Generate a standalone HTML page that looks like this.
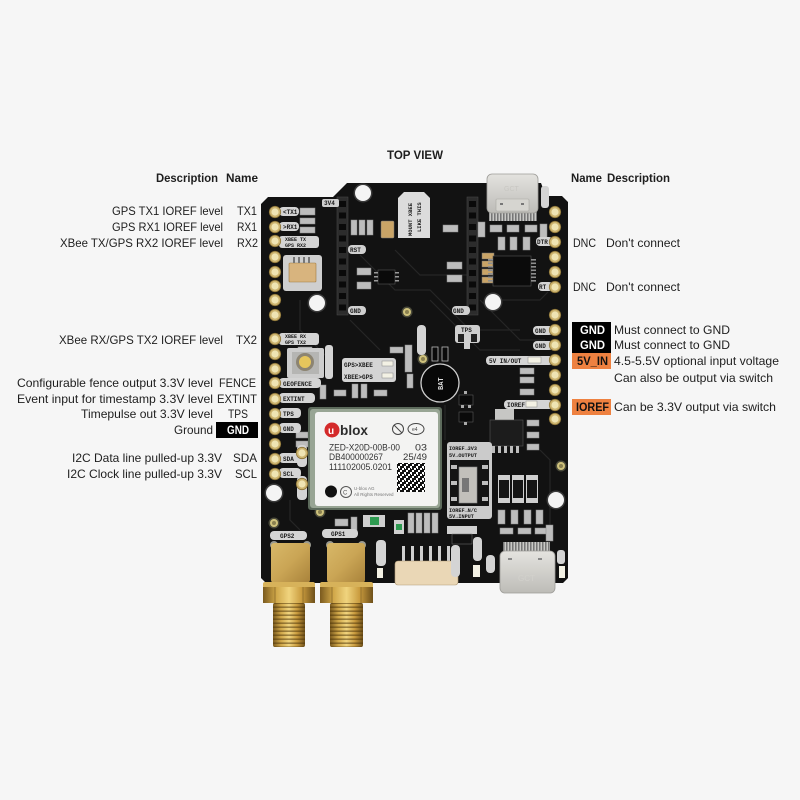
<!DOCTYPE html>
<html><head><meta charset="utf-8">
<style>
html,body{margin:0;padding:0;background:#f6f6f6;}
svg{display:block;}
.t{font-family:"Liberation Sans",Arial,sans-serif;font-size:12px;fill:#1e1e1e;}
.b{font-weight:bold;}
.s{font-family:"Liberation Mono",monospace;font-size:6px;font-weight:bold;fill:#1a1a1a;}
.m{font-family:"Liberation Sans",Arial,sans-serif;font-size:9.5px;fill:#333;}
</style></head><body>
<svg width="800" height="800" viewBox="0 0 800 800" xmlns="http://www.w3.org/2000/svg">
<defs>
 <linearGradient id="gold" x1="0" x2="1" y1="0" y2="0">
  <stop offset="0" stop-color="#7a5a1e"/>
  <stop offset="0.25" stop-color="#cfa648"/>
  <stop offset="0.5" stop-color="#f0d47e"/>
  <stop offset="0.75" stop-color="#c99b3e"/>
  <stop offset="1" stop-color="#6e501a"/>
 </linearGradient>
 <linearGradient id="goldb" x1="0" x2="1" y1="0" y2="1">
  <stop offset="0" stop-color="#d8b868"/>
  <stop offset="0.5" stop-color="#caa555"/>
  <stop offset="1" stop-color="#a8823a"/>
 </linearGradient>
 <pattern id="thr" width="4" height="4" patternUnits="userSpaceOnUse">
  <rect y="2.4" width="4" height="1.6" fill="#4a3108" fill-opacity="0.5"/>
 </pattern>
 <linearGradient id="silver" x1="0" x2="0" y1="0" y2="1">
  <stop offset="0" stop-color="#e4e3df"/>
  <stop offset="1" stop-color="#bdbcb7"/>
 </linearGradient>
 <pattern id="usbpins" width="3" height="9" patternUnits="userSpaceOnUse">
  <rect width="3" height="9" fill="#6d6d6d"/>
  <rect x="0.5" width="1.6" height="9" fill="#c9c9c6"/>
 </pattern>
 <pattern id="qr" width="6" height="6" patternUnits="userSpaceOnUse">
  <rect width="6" height="6" fill="#111"/>
  <rect x="0" y="0" width="2" height="2" fill="#fff"/>
  <rect x="4" y="2" width="2" height="2" fill="#fff"/>
  <rect x="2" y="4" width="2" height="2" fill="#fff"/>
  <rect x="3" y="0" width="1" height="1" fill="#fff"/>
 </pattern>
 <g id="pin"><circle r="5.7" fill="#cdb46f" stroke="#8c7438" stroke-width="0.8"/><circle r="3.6" fill="#efe4b3"/></g>
 <g id="ring"><circle r="5.5" fill="#4a4a3a"/><circle r="4" fill="#cfc27c"/><circle r="2" fill="#8a8050"/></g>
 <g id="hole"><circle r="9.5" fill="#3a3a3a"/><circle r="8" fill="#f4f4f4"/></g>
</defs>

<rect width="800" height="800" fill="#f6f6f6"/>

<!-- Titles -->
<text class="t b" x="387" y="159" textLength="56" lengthAdjust="spacingAndGlyphs">TOP VIEW</text>
<text class="t b" x="156" y="182" textLength="62" lengthAdjust="spacingAndGlyphs">Description</text>
<text class="t b" x="226" y="182" textLength="32" lengthAdjust="spacingAndGlyphs">Name</text>
<text class="t b" x="571" y="182" textLength="31" lengthAdjust="spacingAndGlyphs">Name</text>
<text class="t b" x="607" y="182" textLength="63" lengthAdjust="spacingAndGlyphs">Description</text>

<!-- Left labels -->
<text class="t" x="112" y="215" textLength="111" lengthAdjust="spacingAndGlyphs">GPS TX1 IOREF level</text>
<text class="t" x="237" y="215" textLength="20" lengthAdjust="spacingAndGlyphs">TX1</text>
<text class="t" x="112" y="231" textLength="111" lengthAdjust="spacingAndGlyphs">GPS RX1 IOREF level</text>
<text class="t" x="237" y="231" textLength="20" lengthAdjust="spacingAndGlyphs">RX1</text>
<text class="t" x="60" y="247" textLength="163" lengthAdjust="spacingAndGlyphs">XBee TX/GPS RX2 IOREF level</text>
<text class="t" x="237" y="247" textLength="21" lengthAdjust="spacingAndGlyphs">RX2</text>
<text class="t" x="59" y="344" textLength="164" lengthAdjust="spacingAndGlyphs">XBee RX/GPS TX2 IOREF level</text>
<text class="t" x="236" y="344" textLength="21" lengthAdjust="spacingAndGlyphs">TX2</text>
<text class="t" x="17" y="387" textLength="196" lengthAdjust="spacingAndGlyphs">Configurable fence output 3.3V level</text>
<text class="t" x="219" y="387" textLength="37" lengthAdjust="spacingAndGlyphs">FENCE</text>
<text class="t" x="17" y="403" textLength="196" lengthAdjust="spacingAndGlyphs">Event input for timestamp 3.3V level</text>
<text class="t" x="217" y="403" textLength="40" lengthAdjust="spacingAndGlyphs">EXTINT</text>
<text class="t" x="81" y="418" textLength="132" lengthAdjust="spacingAndGlyphs">Timepulse out 3.3V level</text>
<text class="t" x="228" y="418" textLength="20" lengthAdjust="spacingAndGlyphs">TPS</text>
<text class="t" x="174" y="434" textLength="39" lengthAdjust="spacingAndGlyphs">Ground</text>
<rect x="216" y="422" width="42" height="16" fill="#000"/>
<text class="t b" x="227" y="434" textLength="22" lengthAdjust="spacingAndGlyphs" style="fill:#fff">GND</text>
<text class="t" x="72" y="462" textLength="150" lengthAdjust="spacingAndGlyphs">I2C Data line pulled-up 3.3V</text>
<text class="t" x="233" y="462" textLength="24" lengthAdjust="spacingAndGlyphs">SDA</text>
<text class="t" x="67" y="478" textLength="155" lengthAdjust="spacingAndGlyphs">I2C Clock line pulled-up 3.3V</text>
<text class="t" x="235" y="478" textLength="22" lengthAdjust="spacingAndGlyphs">SCL</text>

<!-- Right labels -->
<text class="t" x="573" y="247" textLength="23" lengthAdjust="spacingAndGlyphs">DNC</text>
<text class="t" x="606" y="247" textLength="74" lengthAdjust="spacingAndGlyphs">Don't connect</text>
<text class="t" x="573" y="291" textLength="23" lengthAdjust="spacingAndGlyphs">DNC</text>
<text class="t" x="606" y="291" textLength="74" lengthAdjust="spacingAndGlyphs">Don't connect</text>
<rect x="572" y="322" width="39" height="16" fill="#000"/>
<text class="t b" x="580" y="334" textLength="25" lengthAdjust="spacingAndGlyphs" style="fill:#fff">GND</text>
<text class="t" x="614" y="334" textLength="116" lengthAdjust="spacingAndGlyphs">Must connect to GND</text>
<rect x="572" y="338" width="39" height="15" fill="#000"/>
<text class="t b" x="580" y="349" textLength="25" lengthAdjust="spacingAndGlyphs" style="fill:#fff">GND</text>
<text class="t" x="614" y="349" textLength="116" lengthAdjust="spacingAndGlyphs">Must connect to GND</text>
<rect x="572" y="353" width="39" height="16" fill="#ee8140"/>
<text class="t b" x="577" y="365" textLength="31" lengthAdjust="spacingAndGlyphs" style="fill:#111">5V_IN</text>
<text class="t" x="614" y="365" textLength="165" lengthAdjust="spacingAndGlyphs">4.5-5.5V optional input voltage</text>
<text class="t" x="614" y="382" textLength="159" lengthAdjust="spacingAndGlyphs">Can also be output via switch</text>
<rect x="572" y="399" width="39" height="16" fill="#ee8140"/>
<text class="t b" x="576" y="411" textLength="33" lengthAdjust="spacingAndGlyphs" style="fill:#111">IOREF</text>
<text class="t" x="614" y="411" textLength="162" lengthAdjust="spacingAndGlyphs">Can be 3.3V output via switch</text>

<!-- Board -->
<path d="M261,204 L268,197 L333,197 L347,183 L541,183 L546,196 L562,196 L568,202 L568,578 L563,583 L266,583 L261,578 Z" fill="#121212"/>
<!-- traces -->
<g stroke="#262626" stroke-width="1.2" fill="none">
 <path d="M360,255 L395,290 L430,290 L470,330 L520,330"/>
 <path d="M395,250 L420,275 L470,275"/>
 <path d="M480,300 L520,340 L545,340"/>
 <path d="M300,300 L300,330 L330,360"/>
 <path d="M430,300 L480,350 L520,350"/>
 <path d="M350,320 L380,350"/>
 <path d="M500,300 L540,300 L548,292"/>
 <path d="M445,405 L445,440"/>
 <path d="M540,450 L550,460 L550,540"/>
 <path d="M290,500 L290,520 L300,530"/>
</g>

<!-- USB-C top -->
<rect x="489" y="211" width="48" height="10" fill="url(#usbpins)"/>
<rect x="487" y="174" width="51" height="39" rx="5" fill="url(#silver)" stroke="#9d9c98" stroke-width="0.8"/>
<rect x="496" y="199" width="33" height="12" rx="1" fill="#d6d5d0" stroke="#a9a8a3" stroke-width="0.6"/>
<rect x="500" y="203" width="3" height="2" fill="#777"/>
<rect x="521" y="203" width="3" height="2" fill="#777"/>
<text x="504" y="191" style="font-family:'Liberation Sans',sans-serif;font-size:7px;fill:#c8c7c2">GCT</text>

<!-- Holes -->
<use href="#hole" x="363" y="193"/>
<use href="#hole" x="317" y="303"/>
<use href="#hole" x="493" y="302"/>
<use href="#hole" x="274" y="493"/>
<use href="#hole" x="556" y="500"/>
<use href="#ring" x="407" y="312"/>
<use href="#ring" x="274" y="523"/>
<use href="#ring" x="320" y="512"/>
<use href="#ring" x="561" y="466"/>
<use href="#ring" x="423" y="359"/>

<!-- XBee headers -->
<rect x="337" y="197" width="11" height="118" fill="#2c2c2c" stroke="#444" stroke-width="0.6"/>
<rect x="467" y="197" width="11" height="118" fill="#2c2c2c" stroke="#444" stroke-width="0.6"/>
<g fill="#0a0a0a">
 <rect x="339" y="201" width="7" height="6"/><rect x="339" y="212.5" width="7" height="6"/><rect x="339" y="224" width="7" height="6"/><rect x="339" y="235.5" width="7" height="6"/><rect x="339" y="247" width="7" height="6"/><rect x="339" y="258.5" width="7" height="6"/><rect x="339" y="270" width="7" height="6"/><rect x="339" y="281.5" width="7" height="6"/><rect x="339" y="293" width="7" height="6"/><rect x="339" y="304.5" width="7" height="6"/>
 <rect x="469" y="201" width="7" height="6"/><rect x="469" y="212.5" width="7" height="6"/><rect x="469" y="224" width="7" height="6"/><rect x="469" y="235.5" width="7" height="6"/><rect x="469" y="247" width="7" height="6"/><rect x="469" y="258.5" width="7" height="6"/><rect x="469" y="270" width="7" height="6"/><rect x="469" y="281.5" width="7" height="6"/><rect x="469" y="293" width="7" height="6"/><rect x="469" y="304.5" width="7" height="6"/>
</g>

<!-- Mount XBee label -->
<path d="M398,198 L404,192 L424,192 L430,198 L430,238 L398,238 Z" fill="#dcdcdc"/>
<text class="s" transform="translate(412,236) rotate(-90)" style="font-size:5.5px">MOUNT XBEE</text>
<text class="s" transform="translate(421,232) rotate(-90)" style="font-size:5.5px">LIKE THIS</text>

<!-- small components top area -->
<g fill="#cfcfcf">
 <rect x="322" y="199" width="17" height="8" rx="2"/>
 <rect x="348" y="245" width="18" height="9" rx="4"/>
 <rect x="348" y="306" width="18" height="9" rx="4"/>
 <rect x="452" y="306" width="18" height="9" rx="4"/>
</g>
<text class="s" x="324" y="205">3V4</text>
<text class="s" x="350" y="252">RST</text>
<text class="s" x="350" y="313">GND</text>
<text class="s" x="453" y="313">GND</text>
<g fill="#bdbdbd" stroke="#8a8a8a" stroke-width="0.5">
 <rect x="300" y="208" width="15" height="7"/><rect x="300" y="218" width="15" height="6"/><rect x="300" y="227" width="15" height="6"/>
 <rect x="351" y="220" width="6" height="15"/><rect x="359" y="220" width="6" height="15"/><rect x="367" y="220" width="6" height="15"/>
 <rect x="443" y="225" width="15" height="7"/><rect x="447" y="262" width="15" height="7"/><rect x="447" y="275" width="15" height="7"/>
 <rect x="357" y="268" width="14" height="7"/><rect x="357" y="282" width="14" height="7"/>
 <rect x="490" y="225" width="12" height="7"/><rect x="507" y="225" width="12" height="7"/><rect x="525" y="225" width="12" height="7"/>
 <rect x="498" y="237" width="7" height="13"/><rect x="510" y="237" width="7" height="13"/><rect x="523" y="237" width="7" height="13"/>
 <rect x="540" y="224" width="7" height="17"/><rect x="478" y="222" width="7" height="15"/>
 <rect x="298" y="347" width="14" height="7"/>
 <rect x="390" y="347" width="13" height="6"/><rect x="405" y="345" width="7" height="27"/><rect x="407" y="374" width="6" height="14"/>
 <rect x="520" y="368" width="14" height="6"/><rect x="520" y="377" width="14" height="6"/><rect x="520" y="389" width="14" height="6"/>
 <rect x="527" y="420" width="12" height="6"/><rect x="527" y="432" width="12" height="6"/><rect x="527" y="444" width="12" height="6"/>
 <rect x="320" y="385" width="6" height="14"/><rect x="334" y="390" width="12" height="6"/><rect x="352" y="384" width="6" height="14"/><rect x="361" y="384" width="6" height="14"/><rect x="374" y="390" width="13" height="6"/>
 <rect x="296" y="432" width="12" height="6"/><rect x="296" y="441" width="12" height="6"/>
 <rect x="335" y="519" width="13" height="7"/><rect x="351" y="517" width="6" height="14"/>
 <rect x="408" y="513" width="6" height="20"/><rect x="416" y="513" width="6" height="20"/><rect x="424" y="513" width="6" height="20"/><rect x="432" y="513" width="6" height="20"/>
 <rect x="498" y="510" width="7" height="14"/><rect x="511" y="510" width="7" height="14"/><rect x="524" y="510" width="7" height="14"/><rect x="536" y="510" width="7" height="14"/>
 <rect x="500" y="528" width="13" height="6"/><rect x="518" y="528" width="13" height="6"/><rect x="535" y="528" width="13" height="6"/>
 <rect x="546" y="525" width="7" height="16"/>
</g>
<!-- tan caps near U8 and C30 -->
<g fill="#c9a467" stroke="#777" stroke-width="0.5">
 <rect x="381" y="221" width="13" height="17" rx="1"/>
 <rect x="482" y="253" width="12" height="6"/><rect x="482" y="261" width="12" height="6"/><rect x="482" y="269" width="12" height="6"/><rect x="482" y="277" width="12" height="6"/>
</g>

<!-- U12 and U8 -->
<rect x="378" y="270" width="17" height="14" fill="#0a0a0a" stroke="#555" stroke-width="0.6"/>
<g fill="#999"><rect x="374" y="272" width="4" height="1.5"/><rect x="374" y="276" width="4" height="1.5"/><rect x="374" y="280" width="4" height="1.5"/><rect x="395" y="272" width="4" height="1.5"/><rect x="395" y="276" width="4" height="1.5"/><rect x="395" y="280" width="4" height="1.5"/></g>
<rect x="493" y="256" width="38" height="30" fill="#0b0b0b" stroke="#555" stroke-width="0.6"/>
<g fill="#8f8f8f">
 <rect x="488" y="259" width="5" height="1.6"/><rect x="488" y="262.5" width="5" height="1.6"/><rect x="488" y="266" width="5" height="1.6"/><rect x="488" y="269.5" width="5" height="1.6"/><rect x="488" y="273" width="5" height="1.6"/><rect x="488" y="276.5" width="5" height="1.6"/><rect x="488" y="280" width="5" height="1.6"/>
 <rect x="531" y="259" width="5" height="1.6"/><rect x="531" y="262.5" width="5" height="1.6"/><rect x="531" y="266" width="5" height="1.6"/><rect x="531" y="269.5" width="5" height="1.6"/><rect x="531" y="273" width="5" height="1.6"/><rect x="531" y="276.5" width="5" height="1.6"/><rect x="531" y="280" width="5" height="1.6"/>
</g>

<!-- J7 -->
<rect x="283" y="255" width="39" height="36" rx="3" fill="#cfcfcf"/>
<rect x="289" y="263" width="27" height="19" rx="1" fill="#d8b47e" stroke="#a07a40" stroke-width="0.6"/>
<g fill="#777"><rect x="293" y="257" width="2" height="6"/><rect x="298" y="257" width="2" height="6"/><rect x="303" y="257" width="2" height="6"/><rect x="308" y="257" width="2" height="6"/></g>

<!-- Left pills -->
<g fill="#d4d4d4">
 <rect x="279" y="207" width="20" height="9" rx="4"/>
 <rect x="279" y="222" width="20" height="9" rx="4"/>
 <rect x="279" y="236" width="40" height="12" rx="3"/>
 <rect x="279" y="333" width="40" height="12" rx="3"/>
 <rect x="279" y="378" width="42" height="10" rx="4"/>
 <rect x="279" y="393" width="36" height="10" rx="4"/>
 <rect x="279" y="408" width="22" height="10" rx="4"/>
 <rect x="279" y="423" width="22" height="10" rx="4"/>
 <rect x="279" y="453" width="22" height="10" rx="4"/>
 <rect x="279" y="468" width="22" height="10" rx="4"/>
 <rect x="297" y="445" width="10" height="22" rx="4"/>
 <rect x="297" y="476" width="10" height="24" rx="4"/>
</g>
<text class="s" x="283" y="214">&lt;TX1</text>
<text class="s" x="283" y="229">&gt;RX1</text>
<text class="s" x="285" y="241" style="font-size:5px">XBEE TX</text>
<text class="s" x="285" y="247" style="font-size:5px">GPS RX2</text>
<text class="s" x="285" y="338" style="font-size:5px">XBEE RX</text>
<text class="s" x="285" y="344" style="font-size:5px">GPS TX2</text>
<text class="s" x="283" y="386">GEOFENCE</text>
<text class="s" x="283" y="401">EXTINT</text>
<text class="s" x="283" y="416">TPS</text>
<text class="s" x="283" y="431">GND</text>
<text class="s" x="283" y="461">SDA</text>
<text class="s" x="283" y="476">SCL</text>

<!-- Button -->
<rect x="287" y="348" width="37" height="30" rx="2" fill="#cdcdcd"/>
<rect x="292" y="352" width="27" height="22" fill="#b5b5b3"/>
<circle cx="305" cy="362" r="9" fill="#8c8472"/>
<circle cx="305" cy="362" r="6" fill="#e6c65c"/>
<rect x="325" y="345" width="8" height="34" rx="3" fill="#d4d4d4"/>

<!-- GPS>XBEE box -->
<rect x="342" y="358" width="54" height="24" rx="3" fill="#d4d4d4"/>
<text class="s" x="344" y="367">GPS&gt;XBEE</text>
<text class="s" x="344" y="379">XBEE&gt;GPS</text>
<rect x="382" y="361" width="11" height="5" fill="#f3f1e4" stroke="#888" stroke-width="0.5"/>
<rect x="382" y="373" width="11" height="5" fill="#f3f1e4" stroke="#888" stroke-width="0.5"/>

<!-- V_BCKP, battery -->
<rect x="417" y="325" width="9" height="30" rx="4" fill="#d4d4d4"/>
<rect x="432" y="347" width="6" height="14" fill="#0a0a0a" stroke="#bbb" stroke-width="0.8"/>
<rect x="442" y="347" width="6" height="14" fill="#0a0a0a" stroke="#bbb" stroke-width="0.8"/>
<circle cx="440" cy="383" r="19" fill="#080808" stroke="#cfcfcf" stroke-width="1.3"/>
<text class="s" transform="translate(443,390) rotate(-90)" style="fill:#ddd;font-size:7px">BAT</text>

<!-- TPS box -->
<rect x="455" y="325" width="25" height="18" rx="3" fill="#cfcfcf"/>
<text class="s" x="461" y="332">TPS</text>
<rect x="458" y="334" width="6" height="8" fill="#222"/><rect x="471" y="334" width="6" height="8" fill="#222"/>
<rect x="464" y="343" width="6" height="6" fill="#cfcfcf"/>

<!-- U11/U1 -->
<rect x="459" y="395" width="14" height="10" fill="#0a0a0a" stroke="#666" stroke-width="0.5"/>
<rect x="459" y="412" width="14" height="10" fill="#0a0a0a" stroke="#666" stroke-width="0.5"/>
<g fill="#aaa"><rect x="461" y="405" width="3" height="3"/><rect x="468" y="405" width="3" height="3"/><rect x="464" y="391" width="3" height="3"/><rect x="464" y="422" width="3" height="3"/></g>

<!-- Right pills -->
<g fill="#d4d4d4">
 <rect x="536" y="237" width="17" height="9" rx="4"/>
 <rect x="538" y="282" width="15" height="9" rx="4"/>
 <rect x="533" y="326" width="20" height="9" rx="4"/>
 <rect x="533" y="341" width="20" height="9" rx="4"/>
 <rect x="486" y="356" width="67" height="9" rx="4"/>
 <rect x="504" y="400" width="49" height="9" rx="4"/>
 <rect x="541" y="186" width="8" height="22" rx="3"/>
</g>
<text class="s" x="537" y="244">DTR</text>
<text class="s" x="539" y="289">RT</text>
<text class="s" x="535" y="333">GND</text>
<text class="s" x="535" y="348">GND</text>
<text class="s" x="489" y="363">5V IN/OUT</text>
<rect x="528" y="357" width="13" height="6" fill="#f3f1e4" stroke="#888" stroke-width="0.5"/>
<text class="s" x="507" y="407">IOREF</text>
<rect x="526" y="401" width="11" height="6" fill="#f3f1e4" stroke="#888" stroke-width="0.5"/>

<!-- U5 regulator -->
<rect x="495" y="409" width="19" height="12" fill="#c6c6c4"/>
<rect x="490" y="420" width="33" height="26" fill="#1c1c1c" stroke="#555" stroke-width="0.6"/>
<g fill="#bdbdbd"><rect x="492" y="446" width="3" height="7"/><rect x="498" y="446" width="3" height="7"/><rect x="504" y="446" width="3" height="7"/><rect x="510" y="446" width="3" height="7"/><rect x="516" y="446" width="3" height="7"/></g>

<!-- Switch -->
<rect x="447" y="442" width="45" height="77" rx="3" fill="#cbcbcb"/>
<rect x="450" y="460" width="39" height="46" fill="#141414"/>
<g fill="#bdbdbd"><rect x="451" y="465" width="6" height="4"/><rect x="451" y="481" width="6" height="4"/><rect x="451" y="497" width="6" height="4"/><rect x="482" y="465" width="6" height="4"/><rect x="482" y="481" width="6" height="4"/><rect x="482" y="497" width="6" height="4"/></g>
<rect x="459" y="467" width="18" height="36" fill="#c2c0bb" stroke="#888" stroke-width="0.6"/>
<rect x="462" y="478" width="7" height="14" fill="#777"/>
<text class="s" x="449" y="450" style="font-size:5.2px">IOREF→3V3</text>
<text class="s" x="449" y="457" style="font-size:5.2px">5V→OUTPUT</text>
<text class="s" x="449" y="512" style="font-size:5.2px">IOREF→N/C</text>
<text class="s" x="449" y="518" style="font-size:5.2px">5V→INPUT</text>

<!-- Diodes -->
<g>
 <rect x="498" y="475" width="12" height="28" fill="#cfcfcf"/><rect x="499" y="480" width="10" height="18" fill="#151515"/>
 <rect x="512" y="475" width="12" height="28" fill="#cfcfcf"/><rect x="513" y="480" width="10" height="18" fill="#151515"/>
 <rect x="526" y="475" width="12" height="28" fill="#cfcfcf"/><rect x="527" y="480" width="10" height="18" fill="#151515"/>
</g>

<!-- GPS module -->
<rect x="308" y="407" width="134" height="103" rx="3" fill="#5d6b5c"/>
<rect x="310" y="409" width="130" height="99" rx="3" fill="#98a594"/>
<rect x="315" y="412" width="123" height="94" rx="3" fill="#f3f3f2"/>
<circle cx="332" cy="430" r="7.5" fill="#d42a2a"/>
<text x="328" y="434" style="font-family:'Liberation Sans',sans-serif;font-size:10px;font-weight:bold;fill:#fff">u</text>
<text x="340" y="435" style="font-family:'Liberation Sans',sans-serif;font-size:14px;font-weight:bold;fill:#2c2c2c" textLength="28" lengthAdjust="spacingAndGlyphs">blox</text>
<circle cx="398" cy="429" r="5.5" fill="none" stroke="#444" stroke-width="1"/>
<line x1="394" y1="425" x2="402" y2="433" stroke="#444" stroke-width="1"/>
<ellipse cx="416" cy="429" rx="8" ry="5.5" fill="none" stroke="#444" stroke-width="1"/>
<text x="412" y="431" style="font-family:'Liberation Sans',sans-serif;font-size:5px;fill:#444">e4</text>
<text class="m" x="329" y="450.5" textLength="71" lengthAdjust="spacingAndGlyphs">ZED-X20D-00B-00</text>
<text class="m" x="415" y="450.5" textLength="12" lengthAdjust="spacingAndGlyphs">03</text>
<text class="m" x="329" y="460" textLength="54" lengthAdjust="spacingAndGlyphs">DB400000267</text>
<text class="m" x="403" y="460" textLength="24" lengthAdjust="spacingAndGlyphs">25/49</text>
<text class="m" x="329" y="470" textLength="63" lengthAdjust="spacingAndGlyphs">111102005.0201</text>
<rect x="397" y="463" width="28" height="29" fill="url(#qr)"/>
<circle cx="331" cy="491.5" r="6" fill="#111"/>
<circle cx="346" cy="492" r="5.5" fill="none" stroke="#555" stroke-width="1"/>
<text x="343" y="494.5" style="font-family:'Liberation Sans',sans-serif;font-size:6px;fill:#555">C</text>
<text x="354" y="490" style="font-family:'Liberation Sans',sans-serif;font-size:4.5px;fill:#777">U-blox AG</text>
<text x="354" y="496" style="font-family:'Liberation Sans',sans-serif;font-size:4.5px;fill:#777">All Rights Reserved</text>

<!-- lower area -->
<rect x="363" y="515" width="22" height="12" fill="#cfcfcf"/>
<rect x="370" y="517" width="9" height="8" fill="#2d9a50"/>
<rect x="394" y="520" width="10" height="14" fill="#cfcfcf"/>
<rect x="396" y="524" width="6" height="6" fill="#2d9a50"/>
<rect x="376" y="540" width="10" height="26" rx="4" fill="#d4d4d4"/>
<rect x="377" y="568" width="6" height="10" fill="#f3f1e4"/>
<g fill="#cfcfcf">
 <rect x="402" y="546" width="3" height="16"/><rect x="411" y="546" width="3" height="16"/><rect x="420" y="546" width="3" height="16"/><rect x="429" y="546" width="3" height="16"/><rect x="438" y="546" width="3" height="16"/><rect x="447" y="546" width="3" height="16"/>
</g>
<rect x="395" y="561" width="63" height="24" rx="3" fill="#ead7b6" stroke="#b09a78" stroke-width="0.6"/>
<rect x="447" y="526" width="30" height="8" fill="#cfcfcf"/>
<rect x="452" y="534" width="20" height="10" fill="#111" stroke="#777" stroke-width="0.5"/>
<rect x="451" y="545" width="9" height="32" rx="4" fill="#d4d4d4"/>
<rect x="473" y="537" width="9" height="24" rx="4" fill="#d4d4d4"/>
<rect x="473" y="565" width="7" height="12" fill="#f3f1e4"/>
<rect x="486" y="555" width="9" height="18" rx="4" fill="#d4d4d4"/>
<rect x="557" y="550" width="8" height="14" rx="3" fill="#d4d4d4"/>
<rect x="559" y="566" width="6" height="12" fill="#f3f1e4"/>

<!-- USB-C bottom -->
<rect x="503" y="542" width="47" height="11" fill="url(#usbpins)"/>
<rect x="500" y="551" width="55" height="42" rx="5" fill="url(#silver)" stroke="#9d9c98" stroke-width="0.8"/>
<rect x="508" y="558" width="4" height="2" fill="#888"/><rect x="538" y="558" width="4" height="2" fill="#888"/>
<text x="518" y="581" style="font-family:'Liberation Sans',sans-serif;font-size:8px;fill:#d2d1cc">GCT</text>

<!-- SMA pills -->
<rect x="270" y="531" width="37" height="9" rx="4" fill="#d4d4d4"/>
<text class="s" x="280" y="538">GPS2</text>
<rect x="322" y="529" width="36" height="9" rx="4" fill="#d4d4d4"/>
<text class="s" x="331" y="536">GPS1</text>

<!-- SMA GPS2 -->
<g>
 <circle cx="274" cy="545" r="4" fill="#9a9a90"/><circle cx="307" cy="545" r="4" fill="#9a9a90"/>
 <rect x="271" y="543" width="39" height="40" rx="3" fill="url(#goldb)"/>
 <rect x="263" y="582" width="52" height="6" rx="2" fill="#d7b25a"/>
 <rect x="263" y="587" width="52" height="16" fill="url(#gold)"/>
 <line x1="275" y1="587" x2="275" y2="603" stroke="#8a6a2a" stroke-width="0.8"/>
 <line x1="303" y1="587" x2="303" y2="603" stroke="#8a6a2a" stroke-width="0.8"/>
 <rect x="273" y="603" width="32" height="44" rx="2" fill="url(#gold)"/>
 <rect x="273" y="603" width="32" height="44" rx="2" fill="url(#thr)"/>
</g>
<!-- SMA GPS1 -->
<g>
 <circle cx="330" cy="545" r="4" fill="#9a9a90"/><circle cx="362" cy="545" r="4" fill="#9a9a90"/>
 <rect x="327" y="543" width="38" height="40" rx="3" fill="url(#goldb)"/>
 <rect x="320" y="582" width="53" height="6" rx="2" fill="#d7b25a"/>
 <rect x="320" y="587" width="53" height="16" fill="url(#gold)"/>
 <line x1="332" y1="587" x2="332" y2="603" stroke="#8a6a2a" stroke-width="0.8"/>
 <line x1="361" y1="587" x2="361" y2="603" stroke="#8a6a2a" stroke-width="0.8"/>
 <rect x="330" y="603" width="33" height="44" rx="2" fill="url(#gold)"/>
 <rect x="330" y="603" width="33" height="44" rx="2" fill="url(#thr)"/>
</g>

<!-- Pins left -->
<use href="#pin" x="275" y="212"/><use href="#pin" x="275" y="227"/><use href="#pin" x="275" y="241"/>
<use href="#pin" x="275" y="257"/><use href="#pin" x="275" y="272"/><use href="#pin" x="275" y="286"/>
<use href="#pin" x="275" y="300"/><use href="#pin" x="275" y="315"/><use href="#pin" x="275" y="339"/>
<use href="#pin" x="275" y="354"/><use href="#pin" x="275" y="369"/><use href="#pin" x="275" y="383"/>
<use href="#pin" x="275" y="399"/><use href="#pin" x="275" y="414"/><use href="#pin" x="275" y="429"/>
<use href="#pin" x="275" y="444"/><use href="#pin" x="275" y="459"/><use href="#pin" x="275" y="474"/>
<use href="#pin" x="302" y="453"/><use href="#pin" x="302" y="484"/>
<!-- Pins right -->
<use href="#pin" x="555" y="212"/><use href="#pin" x="555" y="227"/><use href="#pin" x="555" y="242"/>
<use href="#pin" x="555" y="257"/><use href="#pin" x="555" y="272"/><use href="#pin" x="555" y="287"/>
<use href="#pin" x="555" y="315"/><use href="#pin" x="555" y="330"/><use href="#pin" x="555" y="345"/>
<use href="#pin" x="555" y="360"/><use href="#pin" x="555" y="375"/><use href="#pin" x="555" y="390"/>
<use href="#pin" x="555" y="405"/><use href="#pin" x="555" y="419"/>
</svg>
</body></html>
